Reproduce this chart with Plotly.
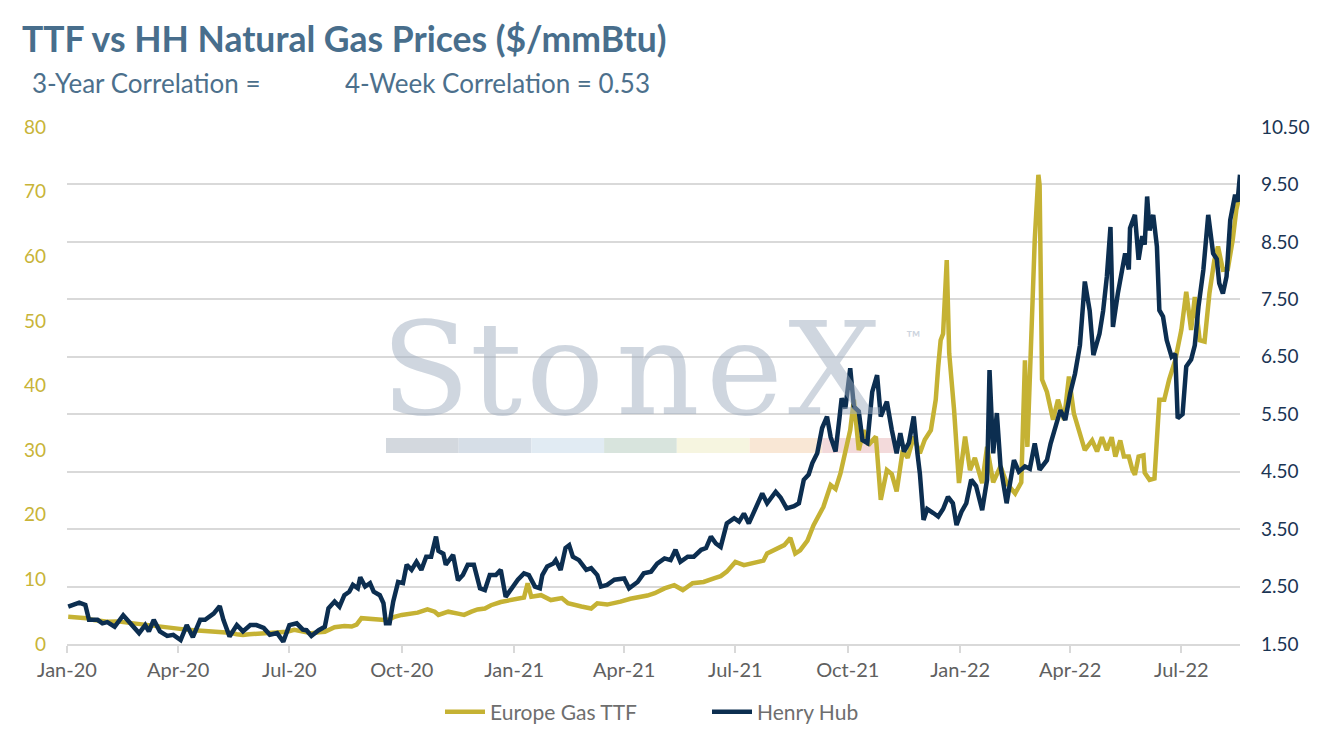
import plotly.graph_objs as go

GOLD = 'rgb(197, 178, 52)'
NAVY = 'rgb(12, 46, 80)'

hh_dates = [
    '2020-01-02', '2020-01-11', '2020-01-16', '2020-01-19', '2020-01-26', '2020-01-30', '2020-02-03', '2020-02-09',
    '2020-02-16', '2020-02-21', '2020-02-29', '2020-03-05', '2020-03-08', '2020-03-12', '2020-03-17', '2020-03-23',
    '2020-03-28', '2020-04-03', '2020-04-08', '2020-04-13', '2020-04-19', '2020-04-23', '2020-04-30', '2020-05-05',
    '2020-05-08', '2020-05-13', '2020-05-19', '2020-05-24', '2020-05-30', '2020-06-04', '2020-06-10', '2020-06-15',
    '2020-06-21', '2020-06-26', '2020-07-01', '2020-07-07', '2020-07-12', '2020-07-15', '2020-07-19', '2020-07-25',
    '2020-07-30', '2020-08-02', '2020-08-07', '2020-08-11', '2020-08-15', '2020-08-19', '2020-08-22', '2020-08-26',
    '2020-08-28', '2020-09-01', '2020-09-05', '2020-09-08', '2020-09-13', '2020-09-16', '2020-09-18', '2020-09-21',
    '2020-09-24', '2020-09-28', '2020-10-02', '2020-10-05', '2020-10-09', '2020-10-13', '2020-10-17', '2020-10-21',
    '2020-10-25', '2020-10-29', '2020-10-31', '2020-11-04', '2020-11-06', '2020-11-12', '2020-11-16', '2020-11-20',
    '2020-11-24', '2020-11-29', '2020-12-04', '2020-12-08', '2020-12-12', '2020-12-17', '2020-12-21', '2020-12-25',
    '2020-12-29', '2021-01-04', '2021-01-09', '2021-01-13', '2021-01-18', '2021-01-22', '2021-01-24', '2021-01-28',
    '2021-02-02', '2021-02-04', '2021-02-08', '2021-02-12', '2021-02-15', '2021-02-18', '2021-02-23', '2021-03-01',
    '2021-03-05', '2021-03-10', '2021-03-13', '2021-03-18', '2021-03-24', '2021-04-01', '2021-04-05', '2021-04-12',
    '2021-04-17', '2021-04-23', '2021-04-28', '2021-05-04', '2021-05-09', '2021-05-13', '2021-05-17', '2021-05-23',
    '2021-05-28', '2021-06-03', '2021-06-07', '2021-06-11', '2021-06-15', '2021-06-19', '2021-06-24', '2021-06-30',
    '2021-07-04', '2021-07-08', '2021-07-12', '2021-07-18', '2021-07-23', '2021-07-27', '2021-08-03', '2021-08-07',
    '2021-08-12', '2021-08-18', '2021-08-22', '2021-08-26', '2021-08-30', '2021-09-02', '2021-09-06', '2021-09-10',
    '2021-09-14', '2021-09-17', '2021-09-21', '2021-09-24', '2021-09-26', '2021-09-29', '2021-10-03', '2021-10-06',
    '2021-10-10', '2021-10-13', '2021-10-17', '2021-10-21', '2021-10-25', '2021-10-28', '2021-11-02', '2021-11-06',
    '2021-11-10', '2021-11-13', '2021-11-16', '2021-11-20', '2021-11-24', '2021-11-27', '2021-11-29', '2021-12-02',
    '2021-12-05', '2021-12-10', '2021-12-14', '2021-12-18', '2021-12-22', '2021-12-26', '2021-12-29', '2022-01-02',
    '2022-01-06', '2022-01-10', '2022-01-14', '2022-01-19', '2022-01-23', '2022-01-25', '2022-01-28', '2022-01-31',
    '2022-02-03', '2022-02-08', '2022-02-14', '2022-02-18', '2022-02-23', '2022-02-27', '2022-03-03', '2022-03-07',
    '2022-03-13', '2022-03-16', '2022-03-21', '2022-03-24', '2022-03-28', '2022-04-01', '2022-04-05', '2022-04-09',
    '2022-04-13', '2022-04-17', '2022-04-20', '2022-04-25', '2022-04-28', '2022-05-01', '2022-05-04', '2022-05-06',
    '2022-05-10', '2022-05-13', '2022-05-16', '2022-05-19', '2022-05-20', '2022-05-24', '2022-05-27', '2022-05-30',
    '2022-06-01', '2022-06-03', '2022-06-05', '2022-06-08', '2022-06-11', '2022-06-13', '2022-06-16', '2022-06-19',
    '2022-06-23', '2022-06-26', '2022-06-28', '2022-07-02', '2022-07-05', '2022-07-09', '2022-07-12', '2022-07-15',
    '2022-07-19', '2022-07-23', '2022-07-27', '2022-07-30', '2022-08-01', '2022-08-04', '2022-08-07', '2022-08-10',
    '2022-08-14', '2022-08-16', '2022-08-18',
]
hh_price = [
    2.15, 2.22, 2.18, 1.92, 1.92, 1.86, 1.88, 1.80,
    2.00, 1.88, 1.69, 1.83, 1.72, 1.92, 1.72, 1.64,
    1.66, 1.57, 1.83, 1.62, 1.92, 1.92, 2.03, 2.16,
    1.92, 1.63, 1.83, 1.72, 1.83, 1.83, 1.78, 1.66,
    1.69, 1.54, 1.83, 1.86, 1.75, 1.74, 1.64, 1.74,
    1.80, 2.12, 2.24, 2.15, 2.35, 2.41, 2.53, 2.47,
    2.66, 2.50, 2.56, 2.41, 2.35, 2.21, 1.86, 1.86,
    2.24, 2.58, 2.56, 2.88, 2.79, 2.93, 2.79, 3.02,
    3.02, 3.37, 3.12, 3.07, 2.88, 3.05, 2.61, 2.70,
    2.88, 2.88, 2.47, 2.44, 2.70, 2.70, 2.79, 2.32,
    2.44, 2.62, 2.73, 2.70, 2.50, 2.47, 2.70, 2.85,
    2.90, 2.96, 2.79, 3.17, 3.22, 3.02, 2.96, 2.79,
    2.82, 2.70, 2.50, 2.53, 2.62, 2.64, 2.47, 2.58,
    2.73, 2.76, 2.90, 2.99, 2.96, 3.14, 2.93, 3.02,
    3.02, 3.14, 3.17, 3.37, 3.25, 3.19, 3.60, 3.69,
    3.63, 3.77, 3.60, 3.89, 4.12, 3.95, 4.15, 4.05,
    3.86, 3.90, 3.95, 4.36, 4.45, 4.65, 4.82, 5.26,
    5.46, 5.10, 4.85, 5.40, 5.78, 5.60, 6.30, 5.63,
    5.55, 5.05, 5.00, 5.89, 6.18, 5.46, 5.72, 5.23,
    4.82, 5.17, 4.85, 5.00, 5.46, 4.82, 4.47, 3.66,
    3.85, 3.78, 3.72, 3.85, 4.06, 3.95, 3.57, 3.80,
    3.95, 4.36, 4.25, 3.83, 4.36, 6.27, 4.82, 5.52,
    4.60, 3.95, 4.70, 4.50, 4.59, 4.55, 4.99, 4.53,
    4.70, 4.99, 5.34, 5.57, 5.40, 5.86, 6.21, 6.70,
    7.81, 7.30, 6.53, 6.90, 7.30, 7.89, 8.76, 7.02,
    7.60, 8.01, 8.30, 8.02, 8.74, 8.97, 8.19, 8.60,
    8.45, 9.29, 8.70, 8.97, 8.42, 7.31, 7.20, 6.79,
    6.50, 6.55, 5.43, 5.50, 6.33, 6.45, 6.70, 7.37,
    8.01, 8.97, 8.30, 8.20, 7.78, 7.60, 7.90, 8.88,
    9.32, 9.20, 9.67,
]

ttf_dates = [
    '2020-01-02', '2020-01-09', '2020-01-17', '2020-01-23', '2020-01-28', '2020-02-03', '2020-02-11', '2020-02-19',
    '2020-02-24', '2020-03-02', '2020-03-10', '2020-03-17', '2020-03-23', '2020-03-31', '2020-04-11', '2020-04-17',
    '2020-04-24', '2020-05-02', '2020-05-13', '2020-05-19', '2020-05-24', '2020-05-29', '2020-06-04', '2020-06-10',
    '2020-06-15', '2020-06-21', '2020-06-29', '2020-07-05', '2020-07-12', '2020-07-19', '2020-07-25', '2020-07-30',
    '2020-08-07', '2020-08-15', '2020-08-21', '2020-08-25', '2020-08-29', '2020-09-03', '2020-09-10', '2020-09-17',
    '2020-09-21', '2020-09-25', '2020-10-01', '2020-10-07', '2020-10-14', '2020-10-22', '2020-10-28', '2020-10-31',
    '2020-11-08', '2020-11-16', '2020-11-21', '2020-11-27', '2020-12-02', '2020-12-08', '2020-12-13', '2020-12-21',
    '2020-12-29', '2021-01-04', '2021-01-09', '2021-01-12', '2021-01-15', '2021-01-23', '2021-01-31', '2021-02-06',
    '2021-02-09', '2021-02-14', '2021-02-19', '2021-02-25', '2021-03-05', '2021-03-10', '2021-03-18', '2021-03-24',
    '2021-03-29', '2021-04-06', '2021-04-15', '2021-04-20', '2021-04-26', '2021-05-04', '2021-05-12', '2021-05-19',
    '2021-05-27', '2021-06-05', '2021-06-14', '2021-06-19', '2021-06-24', '2021-07-01', '2021-07-08', '2021-07-16',
    '2021-07-24', '2021-07-27', '2021-08-04', '2021-08-10', '2021-08-15', '2021-08-19', '2021-08-23', '2021-08-29',
    '2021-09-03', '2021-09-11', '2021-09-17', '2021-09-21', '2021-09-25', '2021-09-29', '2021-10-03', '2021-10-06',
    '2021-10-10', '2021-10-14', '2021-10-18', '2021-10-24', '2021-10-28', '2021-11-02', '2021-11-06', '2021-11-10',
    '2021-11-15', '2021-11-19', '2021-11-24', '2021-11-29', '2021-12-03', '2021-12-08', '2021-12-12', '2021-12-14',
    '2021-12-16', '2021-12-18', '2021-12-21', '2021-12-23', '2021-12-27', '2021-12-31', '2022-01-05', '2022-01-09',
    '2022-01-13', '2022-01-19', '2022-01-23', '2022-01-28', '2022-02-03', '2022-02-08', '2022-02-15', '2022-02-20',
    '2022-02-23', '2022-02-25', '2022-03-01', '2022-03-03', '2022-03-06', '2022-03-07', '2022-03-09', '2022-03-13',
    '2022-03-18', '2022-03-22', '2022-03-27', '2022-03-31', '2022-04-04', '2022-04-09', '2022-04-13', '2022-04-19',
    '2022-04-23', '2022-04-27', '2022-05-01', '2022-05-05', '2022-05-08', '2022-05-12', '2022-05-15', '2022-05-19',
    '2022-05-22', '2022-05-24', '2022-05-27', '2022-05-31', '2022-06-01', '2022-06-05', '2022-06-09', '2022-06-13',
    '2022-06-17', '2022-06-21', '2022-06-26', '2022-07-01', '2022-07-05', '2022-07-09', '2022-07-12', '2022-07-16',
    '2022-07-20', '2022-07-24', '2022-07-28', '2022-07-31', '2022-08-04', '2022-08-08', '2022-08-12', '2022-08-15',
    '2022-08-18',
]
ttf_price = [
    4.2, 4.1, 4.0, 3.7, 3.6, 3.45, 3.5, 3.3,
    3.3, 3.1, 2.9, 2.75, 2.45, 2.3, 2.15, 2.1,
    2.05, 1.9, 1.75, 1.5, 1.4, 1.5, 1.55, 1.7,
    1.75, 1.8, 1.9, 2.2, 1.9, 1.65, 1.8, 1.9,
    2.6, 2.8, 2.7, 3.0, 4.0, 3.9, 3.7, 3.7,
    3.8, 4.2, 4.5, 4.6, 4.85, 5.35, 5.0, 4.5,
    5.0, 4.7, 4.5, 5.0, 5.35, 5.5, 6.0, 6.5,
    6.8, 7.0, 7.2, 9.4, 7.3, 7.55, 6.8, 7.0,
    7.1, 6.3, 6.0, 5.8, 5.5, 6.3, 6.1, 6.3,
    6.55, 7.0, 7.3, 7.5, 7.85, 8.6, 9.1, 8.35,
    9.4, 9.6, 10.2, 10.5, 11.2, 12.7, 12.2, 12.5,
    12.9, 14.0, 14.8, 15.3, 16.4, 14.0, 14.5, 16.0,
    18.4, 21.2, 24.6, 24.0, 26.4, 30.0, 33.1, 37.8,
    30.0, 33.1, 30.8, 32.1, 22.3, 26.9, 26.3, 23.6,
    30.0, 28.8, 32.1, 29.5, 31.6, 33.1, 37.8, 42.9,
    47.0, 48.0, 59.4, 45.0, 36.2, 24.9, 32.1, 26.9,
    28.8, 24.9, 30.5, 25.0, 27.5, 24.9, 23.3, 25.0,
    43.9, 30.5, 53.2, 62.5, 72.6, 71.0, 40.9, 39.0,
    34.7, 37.8, 34.7, 41.4, 35.7, 32.6, 30.0, 31.5,
    29.8, 32.0, 30.0, 32.0, 29.0, 31.5, 29.0, 29.0,
    26.9, 26.2, 29.0, 29.2, 26.5, 25.4, 25.6, 37.8,
    37.8, 40.9, 43.9, 48.6, 54.5, 48.6, 53.7, 47.0,
    46.8, 54.3, 59.4, 61.5, 57.9, 58.0, 62.5, 67.2,
    69.7,
]

series_names = ['Europe Gas TTF', 'Henry Hub']
title_text = 'TTF vs HH Natural Gas Prices ($/mmBtu)'
corr_3y_text = '3-Year Correlation ='
corr_4w_text = '4-Week Correlation = 0.53'
watermark_letters = ['S', 't', 'o', 'n', 'e', 'X']

FONT = 'Lato'
SUB_COLOR = 'rgb(76,112,140)'

fig = go.Figure([
    go.Scatter(
        name = series_names[0],
        x = ttf_dates,
        y = ttf_price,
        line = dict(color = GOLD, width = 4.5),
        mode = 'lines',
        yaxis = 'y',
    ),
    go.Scatter(
        name = series_names[1],
        x = hh_dates,
        y = hh_price,
        line = dict(color = NAVY, width = 4.5),
        mode = 'lines',
        yaxis = 'y2',
    ),
])

# the page body has an 8px margin, so the figure is 16px smaller than the window
W, H = 1303, 723

# watermark letters, placed one by one over the plot area (paper coords)
letter_x = [0.306, 0.3657, 0.4246, 0.5038, 0.578, 0.6547]
annotations = []
for ch, lx in zip(watermark_letters, letter_x):
    annotations.append(dict(
        text = ch, x = lx, y = 0.532, xref = 'paper', yref = 'paper',
        xanchor = 'center', yanchor = 'middle', showarrow = False,
        font = dict(family = 'DejaVu Serif', size = 130, color = 'rgba(160,174,192,0.5)'),
    ))
annotations.append(dict(
    text = '™', x = 0.722, y = 0.594, xref = 'paper', yref = 'paper',
    xanchor = 'center', yanchor = 'middle', showarrow = False,
    font = dict(family = FONT, size = 20, color = 'rgb(205,212,222)'),
))
annotations.append(dict(
    text = corr_3y_text, x = -0.0315, y = 1.085, xref = 'paper', yref = 'paper',
    xanchor = 'left', yanchor = 'middle', showarrow = False,
    font = dict(family = FONT, size = 26, color = SUB_COLOR),
))
annotations.append(dict(
    text = corr_4w_text, x = 0.2353, y = 1.085, xref = 'paper', yref = 'paper',
    xanchor = 'left', yanchor = 'middle', showarrow = False,
    font = dict(family = FONT, size = 26, color = SUB_COLOR),
))

# coloured band under the logo
band_colors = ['#d3d8de', '#d6dee7', '#e1ebf3', '#d8e4dd', '#f6f5e0', '#f9e7d5', '#f3dadb']
shapes = []
for i, c in enumerate(band_colors):
    x0 = (386 - 67 + i * 72.7) / 1173
    shapes.append(dict(
        type = 'rect', xref = 'paper', yref = 'paper',
        x0 = x0, x1 = x0 + 72.7 / 1173, y0 = 0.3694, y1 = 0.3985,
        fillcolor = c, line = dict(width = 0), layer = 'below',
    ))

fig.update_layout(
    width = W,
    height = H,
    margin = dict(l = 59, r = 71, t = 119, b = 87, autoexpand = False),
    paper_bgcolor = 'white',
    plot_bgcolor = 'white',
    font = dict(family = FONT, size = 20, color = 'rgb(96,96,96)'),
    title = dict(
        text = '<b>' + title_text + '</b>',
        x = 14 / W, xanchor = 'left', xref = 'container',
        y = 1 - 32 / H, yanchor = 'middle', yref = 'container',
        font = dict(family = FONT, size = 35.5, color = 'rgb(72,110,140)'),
    ),
    xaxis = dict(
        type = 'date',
        range = ['2020-01-01', '2022-08-18'],
        tick0 = '2020-01-01',
        dtick = 'M3',
        tickformat = '%b-%y',
        showgrid = False,
        showline = True,
        linecolor = '#d9d9d9',
        linewidth = 2,
        ticks = 'outside',
        ticklen = 7,
        tickcolor = '#d9d9d9',
        tickwidth = 2,
        tickfont = dict(size = 20, color = 'rgb(96,96,96)'),
        zeroline = False,
        automargin = False,
    ),
    yaxis = dict(
        range = [0, 80],
        dtick = 10,
        showgrid = False,
        zeroline = False,
        tickfont = dict(size = 19, color = 'rgb(200,180,56)'),
        ticklabelstandoff = 20,
        automargin = False,
    ),
    yaxis2 = dict(
        range = [1.5, 10.5],
        dtick = 1,
        tick0 = 1.5,
        tickformat = '.2f',
        overlaying = 'y',
        side = 'right',
        showgrid = True,
        gridcolor = '#d9d9d9',
        gridwidth = 2,
        zeroline = False,
        tickfont = dict(size = 19, color = 'rgb(27,53,84)'),
        ticklabelstandoff = 20,
        automargin = False,
    ),
    legend = dict(
        orientation = 'h',
        x = (440 - 67) / 1173, xanchor = 'left',
        y = -0.1315, yanchor = 'middle',
        font = dict(size = 21, color = 'rgb(110,110,110)'),
        itemwidth = 40,
        entrywidth = 212,
    ),
    annotations = annotations,
    shapes = shapes,
)

fig.write_html("out.html")
